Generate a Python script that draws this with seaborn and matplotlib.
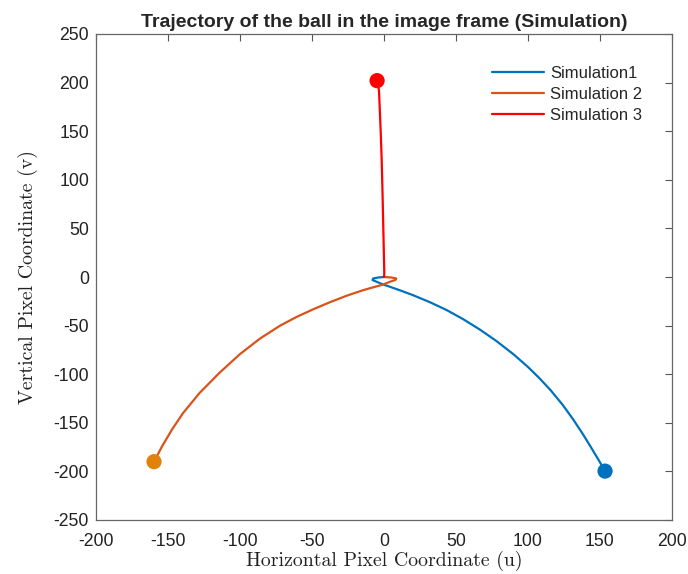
import numpy as np
import pandas as pd
import matplotlib
matplotlib.use("Agg")
import matplotlib.pyplot as plt
import seaborn as sns

# Ball trajectories in the image frame (pixel coordinates u, v)
sim1_u = [0, -4, -7.5, -8, -5, -1, 5, 12, 20, 32, 43.5, 55, 66.7, 78, 90, 100, 108,
          116, 124, 131.5, 138, 143, 148, 151, 153.5]
sim1_v = [0, -0.5, -1.5, -3, -5, -7.5, -10.5, -14.2, -18.6, -26, -34, -43.4, -54.2,
          -65.8, -79.6, -92.6, -104.2, -117, -131.4, -146.8, -161.4, -173.4, -185.7,
          -193.2, -199.7]

sim2_u = [0, 5, 8.5, 8, 4, -1, -8, -14.6, -26, -37.5, -49, -60.6, -72, -86, -100,
          -114, -128, -139.5, -147, -154, -158, -159.7]
sim2_v = [0, -0.5, -1.5, -3, -5, -8, -10.8, -13.6, -19.3, -25.9, -33.1, -41, -49.9,
          -63.2, -79.3, -98.2, -119.2, -139.9, -156.4, -173.9, -185.1, -190]

sim3_u = [0, 0.2, -0.5, -1.0, -1.6, -2.3, -3.0, -3.5, -4.2, -4.8]
sim3_v = [0, 4, 51.6, 85, 120, 150, 175, 192, 198, 202]

sim_names = ["Simulation1", "Simulation 2", "Simulation 3"]
line_colors = ["#0072BD", "#D95319", "#FF0000"]
end_colors = ["#0072BD", "#E1820A", "#FF0000"]

x_ticks = [-200, -150, -100, -50, 0, 50, 100, 150, 200]
y_ticks = [-250, -200, -150, -100, -50, 0, 50, 100, 150, 200, 250]

frames = []
for name, u, v in zip(sim_names, [sim1_u, sim2_u, sim3_u], [sim1_v, sim2_v, sim3_v]):
    frames.append(pd.DataFrame({"u": u, "v": v, "sim": name, "step": range(len(u))}))
traj = pd.concat(frames, ignore_index=True)
ends = traj.groupby("sim", sort=False).tail(1)

sns.set_style("white")
plt.rcParams["font.family"] = ["Liberation Sans", "DejaVu Sans"]
plt.rcParams["axes.unicode_minus"] = False

fig = plt.figure(figsize=(6.88, 5.74), dpi=100)
ax = fig.add_axes([96 / 688, 1 - 520 / 574, 576 / 688, 486 / 574])

sns.lineplot(data=traj, x="u", y="v", hue="sim", hue_order=sim_names,
             palette=line_colors, sort=False, estimator=None, units="sim",
             linewidth=1.6, ax=ax)
sns.scatterplot(data=ends, x="u", y="v", hue="sim", hue_order=sim_names,
                palette=end_colors, s=120, linewidth=0, legend=False, ax=ax, zorder=5)

ax.set_xlim(-200, 200)
ax.set_ylim(-250, 250)
ax.set_xticks(x_ticks)
ax.set_yticks(y_ticks)
ax.tick_params(direction="in", top=True, right=True, length=5, width=0.8,
               color="#555555", labelsize=12.7, labelcolor="#222222")
ax.tick_params(axis="x", pad=9)
ax.tick_params(axis="y", pad=5)
for sp in ax.spines.values():
    sp.set_visible(True)
    sp.set_color("#666666")
    sp.set_linewidth(0.9)

ax.set_xlabel("Horizontal Pixel Coordinate (u)", fontfamily="cmr10", fontsize=14.3,
              color="#222222", labelpad=1)
ax.set_ylabel("Vertical Pixel Coordinate (v)", fontfamily="cmr10", fontsize=14.3,
              color="#222222", labelpad=11)
ax.set_title("Trajectory of the ball in the image frame (Simulation)",
             fontsize=14, fontweight="bold", pad=5)

leg = ax.legend(loc="upper left", bbox_to_anchor=((492 - 96) / 576, (520 - 66) / 486),
                frameon=False, fontsize=12, handlelength=3.1, handletextpad=0.4,
                labelspacing=0.35, borderpad=0, borderaxespad=0)

fig.savefig("out.png", dpi=100)
